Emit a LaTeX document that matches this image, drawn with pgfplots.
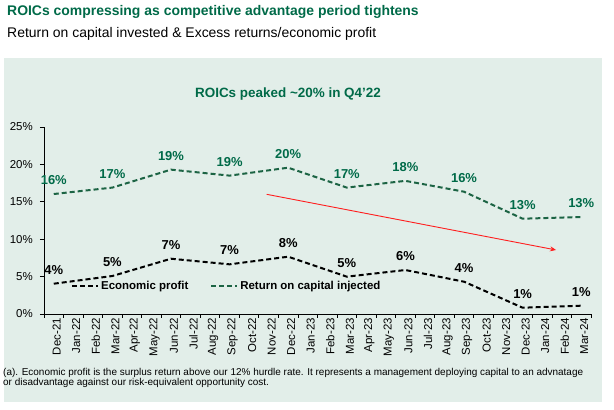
\documentclass[border=0pt]{standalone}
\usepackage{pgfplots}
\pgfplotsset{compat=1.18}
\usepackage{fontspec}
\setmainfont{Liberation Sans}
\usetikzlibrary{arrows.meta}
\definecolor{tgreen}{RGB}{0,106,72}
\definecolor{lgreen}{RGB}{28,100,68}
\definecolor{bgc}{RGB}{226,238,233}
\definecolor{arrred}{RGB}{255,30,30}
\begin{document}
\begin{tikzpicture}
\path[use as bounding box] (0bp,0bp) rectangle (614bp,410bp);
\fill[bgc] (4bp,8bp) rectangle (602bp,352bp);
\node[anchor=base west, inner sep=0pt, text=tgreen, font=\fontsize{14}{16}\selectfont\bfseries] at (7bp,394bp) {ROICs compressing as competitive advantage period tightens};
\node[anchor=base west, inner sep=0pt, font=\fontsize{14}{16}\selectfont] at (7bp,372bp) {Return on capital invested \& Excess returns/economic profit};
\node[anchor=base, inner sep=0pt, text=tgreen, font=\fontsize{13.5}{16}\selectfont\bfseries] at (288bp,312bp) {ROICs peaked \textasciitilde20\% in Q4'22};
\node[anchor=base west, inner sep=0pt, font=\fontsize{10}{12}\selectfont] at (3bp,35bp) {(a). Economic profit is the surplus return above our 12\% hurdle rate. It represents a management deploying capital to an advnatage};
\node[anchor=base west, inner sep=0pt, font=\fontsize{10}{12}\selectfont] at (3bp,25bp) {or disadvantage against our risk-equivalent opportunity cost.};
\begin{axis}[
  at={(44bp,96bp)}, anchor=south west,
  width=547bp, height=187bp, scale only axis,
  xmin=-0.5, xmax=27.5, ymin=0, ymax=25,
  axis lines*=left,
  axis line style={black, line width=0.8bp},
  tick align=outside,
  major tick length=4bp, minor tick length=4bp,
  tick style={black, line width=0.8bp},
  xtick={0,...,27},
  xticklabels={Dec-21,Jan-22,Feb-22,Mar-22,Apr-22,May-22,Jun-22,Jul-22,Aug-22,Sep-22,Oct-22,Nov-22,Dec-22,Jan-23,Feb-23,Mar-23,Apr-23,May-23,Jun-23,Jul-23,Aug-23,Sep-23,Oct-23,Nov-23,Dec-23,Jan-24,Feb-24,Mar-24},
  major x tick style={draw=none},
  minor xtick={-0.5,0.5,...,27.5},
  xticklabel style={rotate=90, anchor=east, font=\fontsize{11.5}{13}\selectfont, inner sep=0pt, xshift=0bp, yshift=-3bp},
  ytick={0,5,10,15,20,25},
  yticklabels={0\%,5\%,10\%,15\%,20\%,25\%},
  yticklabel style={font=\fontsize{11.5}{13}\selectfont, inner sep=0pt, xshift=-7bp},
  legend style={at={(axis cs:0.88,3.78)}, anchor=west, draw=none, fill=none, inner sep=0pt,
    font=\fontsize{11.5}{13}\selectfont\bfseries, legend columns=2,
    /tikz/every even column/.append style={column sep=20bp}, legend cell align=left},
  legend image code/.code={\draw[#1] (0bp,0bp) -- (26bp,0bp);},
  nodes near coords align=center,
  every node near coord/.append style={yshift=14bp, inner sep=0pt, font=\fontsize{13}{15}\selectfont\bfseries},
  clip=false,
]
\addplot[black, line width=2bp, dash pattern=on 5bp off 3bp, nodes near coords, point meta=explicit symbolic]
 table[meta=l] {
x y l
0 4.05 4\%
3 5.08 5\%
6 7.39 7\%
9 6.64 7\%
12 7.66 8\%
15 4.99 5\%
18 5.88 6\%
21 4.32 4\%
24 0.84 1\%
27 1.11 1\%
};
\addlegendentry{Economic profit}
\addplot[lgreen, line width=2bp, dash pattern=on 5bp off 3bp, nodes near coords, point meta=explicit symbolic, every node near coord/.append style={text=tgreen}]
 table[meta=l] {
x y l
0 16.04 16\%
3 16.9 17\%
6 19.3 19\%
9 18.5 19\%
12 19.56 20\%
15 16.9 17\%
18 17.8 18\%
21 16.35 16\%
24 12.74 13\%
27 12.97 13\%
};
\addlegendentry{Return on capital injected}
\draw[arrred, line width=0.9bp, -{Stealth[length=6bp,width=5bp]}] (axis cs:10.9,16.0) -- (axis cs:25.71,8.56);
\end{axis}
\end{tikzpicture}
\end{document}
